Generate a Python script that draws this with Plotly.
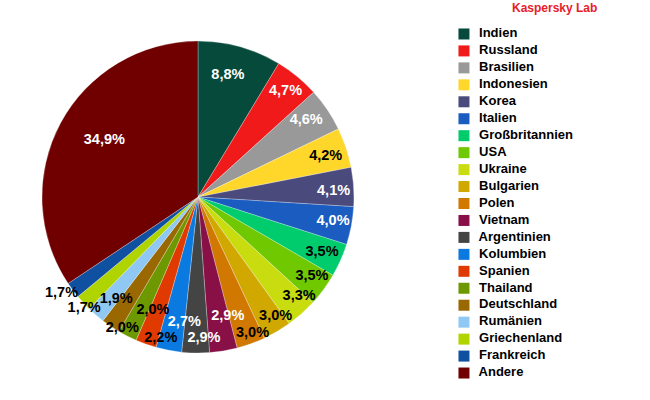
import numpy as np
import plotly.graph_objects as go

# Daten: Anteil je Land (in %)
laender = ['Indien', 'Russland', 'Brasilien', 'Indonesien', 'Korea', 'Italien',
           'Großbritannien', 'USA', 'Ukraine', 'Bulgarien', 'Polen', 'Vietnam',
           'Argentinien', 'Kolumbien', 'Spanien', 'Thailand', 'Deutschland',
           'Rumänien', 'Griechenland', 'Frankreich', 'Andere']
anteile = [8.8, 4.7, 4.6, 4.2, 4.1, 4.0, 3.5, 3.5, 3.3, 3.0, 3.0, 2.9,
           2.9, 2.7, 2.2, 2.0, 2.0, 1.9, 1.7, 1.7, 34.9]
beschriftung = [f"{v:.1f}%".replace('.', ',') for v in anteile]

farben = ['#064a3c', '#f01a1a', '#999999', '#ffd62a', '#4a4a7c', '#1a5cbf',
          '#00cc6e', '#70c800', '#c8dc10', '#d0a800', '#d07800', '#881046',
          '#444444', '#0a7ae0', '#e03a00', '#6e9800', '#9a6800', '#90c8f4',
          '#b0d400', '#1050a0', '#700000']
weisse_schrift = {'Indien', 'Russland', 'Brasilien', 'Korea', 'Italien',
                  'Vietnam', 'Argentinien', 'Kolumbien', 'Andere'}
text_farben = ['white' if l in weisse_schrift else 'black' for l in laender]

# Lage der Beschriftungen: Anteil am Radius und Winkelversatz (Grad) zur Stückmitte,
# damit sich die Werte kleiner Stücke nicht überdecken
label_r = [0.805, 0.88, 0.85, 0.86, 0.87, 0.88, 0.87, 0.89, 0.91, 0.915, 0.94,
           0.79, 0.91, 0.81, 0.94, 0.78, 0.97, 0.84, 1.02, 1.07, 0.70]
label_dtheta = [-1.8, 0.1, -1.3, 0.6, 1.2, -0.2, 0.0, -1.5, -3.8, -2.5, -2.0,
                -4.6, -3.3, -4.6, -4.8, -5.2, -4.0, -2.3, -1.6, 1.5, 2.8]

werte = np.array(anteile)
breite = werte / werte.sum() * 360
mitte = np.cumsum(breite) - breite / 2

# Polarbereich etwas größer als der Kuchen, damit Beschriftungen am Rand Platz haben
R_MAX = 1.1
dom_x = [0.0406, 0.5686]
dom_y = [0.0785, 0.9365]
FONT = 'Liberation Sans, Arial, sans-serif'

fig = go.Figure()

# Kuchenstücke als Polar-Balken
fig.add_trace(go.Barpolar(
    r=[1] * len(anteile),
    theta=mitte,
    width=breite,
    marker=dict(color=farben, line=dict(color='rgba(255,255,255,0.45)', width=0.6)),
    text=laender,
    customdata=beschriftung,
    hovertemplate='%{text}: %{customdata}<extra></extra>',
    showlegend=False,
))

# Prozentwerte
fig.add_trace(go.Scatterpolar(
    r=label_r,
    theta=mitte + np.array(label_dtheta),
    mode='text',
    text=beschriftung,
    textfont=dict(family=FONT, size=14.5, color=text_farben, weight='bold'),
    showlegend=False,
    hoverinfo='skip',
    cliponaxis=False,
))

# Legende als eigene Markerliste (engerer Zeilenabstand als die Plotly-Legende)
fig.add_trace(go.Scatter(
    x=[0] * len(laender),
    y=list(range(len(laender))),
    mode='markers+text',
    marker=dict(symbol='square', size=11, color=farben, line=dict(width=0)),
    text=['  ' + l for l in laender],
    textposition='middle right',
    textfont=dict(family=FONT, size=13, color='black', weight='bold'),
    showlegend=False,
    hoverinfo='skip',
    cliponaxis=False,
))

fig.update_layout(
    width=650,
    height=400,
    margin=dict(l=0, r=0, t=0, b=0),
    paper_bgcolor='white',
    plot_bgcolor='rgba(0,0,0,0)',
    font=dict(family=FONT),
    showlegend=False,
    polar=dict(
        domain=dict(x=dom_x, y=dom_y),
        bgcolor='rgba(0,0,0,0)',
        bargap=0,
        radialaxis=dict(range=[0, R_MAX], visible=False),
        angularaxis=dict(direction='clockwise', rotation=90, visible=False),
    ),
    xaxis=dict(domain=[0.70, 1.0], range=[-0.046, 0.954], visible=False, fixedrange=True),
    yaxis=dict(domain=[0.04625, 0.93625], range=[20.5, -0.5], visible=False, fixedrange=True),
    annotations=[dict(
        text='<b>Kaspersky Lab</b>',
        xref='paper', yref='paper',
        x=554 / 650, xanchor='center',
        y=1 - 8.5 / 400, yanchor='middle',
        showarrow=False,
        font=dict(family=FONT, size=12, color='#e8202a'),
    )],
)

# Seitenrand des Browsers entfernen, damit die Grafik bündig oben links sitzt
fig.write_html("out.html", config={'displayModeBar': False},
               post_script="document.body.style.margin='0';")
